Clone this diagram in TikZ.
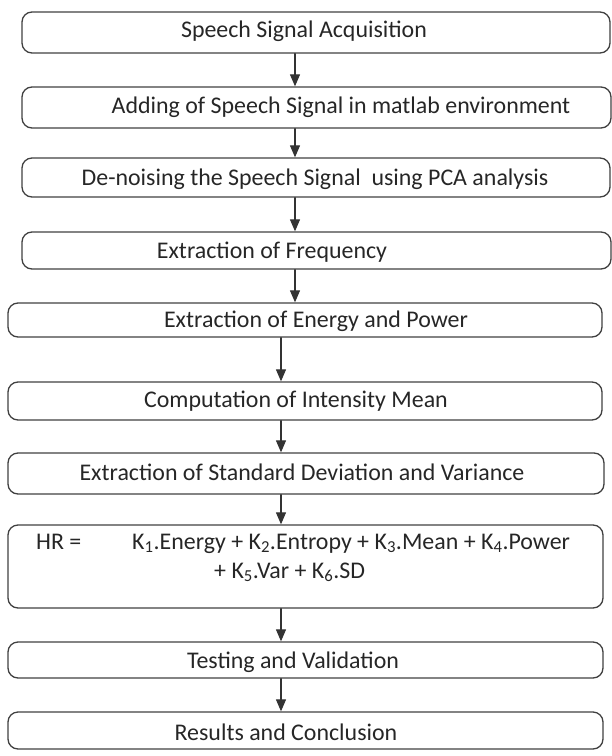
\documentclass[tikz,border=0pt]{standalone}
\usepackage{fontspec}
\setmainfont{Carlito}
\usetikzlibrary{arrows.meta}
\newcommand{\stage}[5]{
  \node[stage, minimum width = {(#4 - #2)*1bp}, minimum height = {(#5 - #3)*1bp}]
    (#1) at ({(#2 + #4)/2}, {(#3 + #5)/2}) {};}

\begin{document}
\begin{tikzpicture}[x = 1bp, y = -1bp, line cap = round, line join = round,
  stage/.style = {draw = black!75, line width = 1.3bp, rounded corners = 10bp, inner sep = 0},
  txt/.style = {font = \fontsize{24}{28}\selectfont, text = black!85, inner sep = 0, anchor = base},
  flow/.style = {draw = black!80, line width = 1.2bp, -{Triangle[length = 12bp, width = 10bp]}}]
  \useasboundingbox (0, 0) rectangle (612, 756);

  % boxes: name, left, top, right, bottom
  \stage{b1}{22}{12}{610}{53}
  \stage{b2}{22}{87}{611}{128}
  \stage{b3}{22}{158}{610}{197}
  \stage{b4}{22}{232}{611}{269}
  \stage{b5}{8}{303}{602}{337}
  \stage{b6}{8}{382}{602}{420}
  \stage{b7}{8}{453}{604}{494}
  \stage{b8}{8}{525}{603}{608}
  \stage{b9}{8}{642}{603}{678}
  \stage{b10}{8}{712}{603}{749}

  \node[txt] (t1) at (304, 38) {Speech Signal Acquisition};
  \node[txt] (t2) at (341, 113) {Adding of Speech Signal in matlab environment};
  \node[txt] (t3) at (315, 185) {De-noising the Speech Signal\ \ using PCA analysis};
  \node[txt] (t4) at (272, 258) {Extraction of Frequency};
  \node[txt] (t5) at (316, 327) {Extraction of Energy and Power};
  \node[txt] (t6) at (296, 407) {Computation of Intensity Mean};
  \node[txt] (t7) at (302, 480) {Extraction of Standard Deviation and Variance};
  \node[txt, anchor = base west] (hr) at (36, 549) {HR =};
  \node[txt, anchor = base west] (sum1) at (132, 549)
    {K\textsubscript{1}.Energy + K\textsubscript{2}.Entropy + K\textsubscript{3}.Mean + K\textsubscript{4}.Power};
  \node[txt, anchor = base west] (sum2) at (214, 578)
    {+ K\textsubscript{5}.Var + K\textsubscript{6}.SD};
  \node[txt] (t9) at (293, 668) {Testing and Validation};
  \node[txt] (t10) at (286, 740) {Results and Conclusion};

  % arrow columns
  \coordinate (up) at (295, 0);
  \coordinate (low) at (281, 0);

  \foreach \a/\b in {b1/b2, b2/b3, b3/b4, b4/b5}
    \draw[flow] (\a.south -| up) -- (\b.north -| up);
  \foreach \a/\b in {b5/b6, b6/b7, b7/b8, b8/b9, b9/b10}
    \draw[flow] (\a.south -| low) -- (\b.north -| low);
\end{tikzpicture}
\end{document}
